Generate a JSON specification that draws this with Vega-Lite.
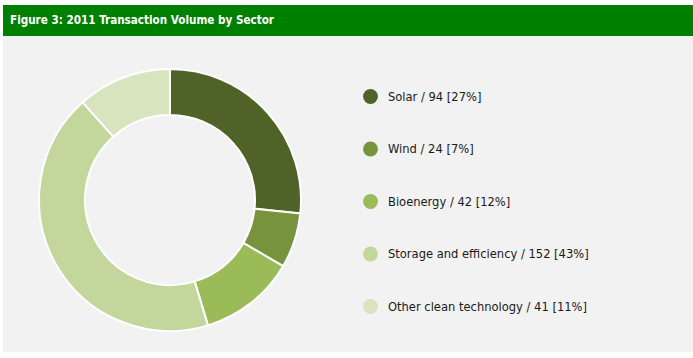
{
  "$schema": "https://vega.github.io/schema/vega-lite/v6.json",
  "background": "white",
  "padding": {"left": 3, "top": 5, "right": 0, "bottom": 6},
  "spacing": 0,
  "config": {"view": {"stroke": null}, "font": "DejaVu Sans Condensed, Roboto, sans-serif"},
  "datasets": {
    "sectors": [
      {"sector": "Solar", "count": 94, "pct": 27, "label": "Solar / 94 [27%]", "idx": 1},
      {"sector": "Wind", "count": 24, "pct": 7, "label": "Wind / 24 [7%]", "idx": 2},
      {"sector": "Bioenergy", "count": 42, "pct": 12, "label": "Bioenergy / 42 [12%]", "idx": 3},
      {"sector": "Storage and efficiency", "count": 152, "pct": 43, "label": "Storage and efficiency / 152 [43%]", "idx": 4},
      {"sector": "Other clean technology", "count": 41, "pct": 11, "label": "Other clean technology / 41 [11%]", "idx": 5}
    ],
    "header": [{"title": "Figure 3: 2011 Transaction Volume by Sector"}]
  },
  "vconcat": [
    {
      "width": 690,
      "height": 31,
      "view": {"fill": "#008000", "stroke": null},
      "data": {"name": "header"},
      "mark": {"type": "text", "align": "left", "baseline": "middle", "color": "white", "fontSize": 11.6, "fontWeight": "bold", "font": "DejaVu Sans Condensed, Roboto, sans-serif", "x": 7, "y": 16},
      "encoding": {"text": {"field": "title"}}
    },
    {
      "width": 690,
      "height": 316,
      "view": {"fill": "#f2f2f2", "stroke": null},
      "data": {"name": "sectors"},
      "mark": {"type": "arc", "outerRadius": 131, "innerRadius": 85, "stroke": "white", "strokeWidth": 2, "x": 167, "y": 164},
      "encoding": {
        "theta": {"field": "count", "type": "quantitative", "stack": true},
        "order": {"field": "idx", "type": "quantitative"},
        "color": {
          "field": "label",
          "type": "nominal",
          "sort": ["Solar / 94 [27%]", "Wind / 24 [7%]", "Bioenergy / 42 [12%]", "Storage and efficiency / 152 [43%]", "Other clean technology / 41 [11%]"],
          "scale": {
            "domain": ["Solar / 94 [27%]", "Wind / 24 [7%]", "Bioenergy / 42 [12%]", "Storage and efficiency / 152 [43%]", "Other clean technology / 41 [11%]"],
            "range": ["#4f6228", "#77933c", "#9bbb59", "#c3d69b", "#d7e4bd"]
          },
          "legend": {
            "title": null,
            "orient": "none",
            "legendX": 360,
            "legendY": 84,
            "symbolType": "circle",
            "symbolSize": 220,
            "symbolStrokeWidth": 0,
            "rowPadding": 37.5,
            "labelFontSize": 12.8,
            "labelFont": "DejaVu Sans Condensed, Roboto, sans-serif",
            "labelColor": "#1a1a1a",
            "labelOffset": 10,
            "labelLimit": 400
          }
        }
      }
    }
  ]
}
